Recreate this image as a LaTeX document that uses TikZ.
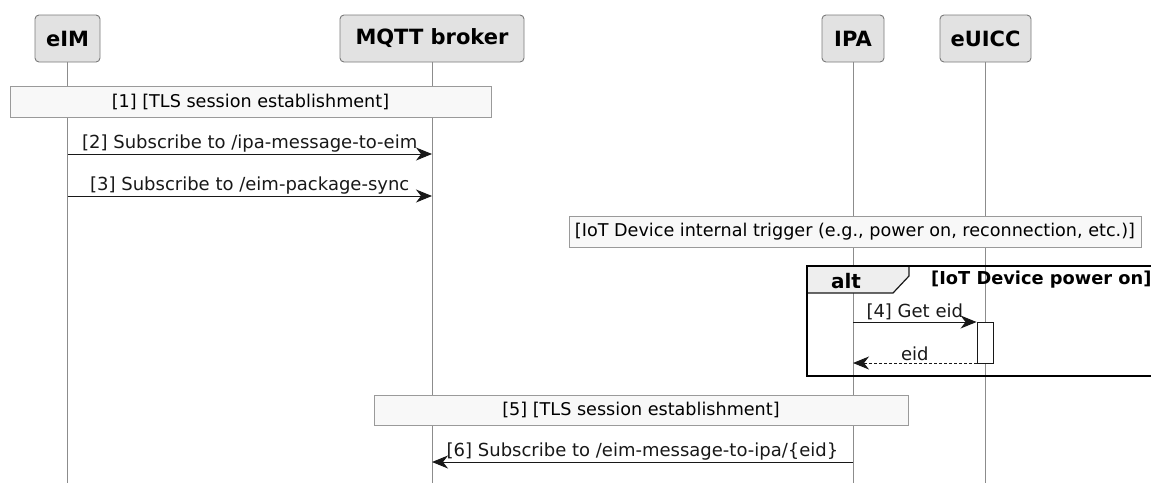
\documentclass[tikz,border=0pt]{standalone}
\usepackage{fontspec}
\setmainfont{DejaVu Sans}
\usetikzlibrary{arrows.meta}
\definecolor{ptfill}{HTML}{E2E2E2}
\definecolor{ptdraw}{HTML}{7A7A7A}
\definecolor{lifeln}{HTML}{8C8C8C}
\definecolor{notefill}{HTML}{F8F8F8}
\definecolor{notedraw}{HTML}{9A9A9A}
\definecolor{ink}{HTML}{181818}
\definecolor{tabfill}{HTML}{EEEEEE}
\begin{document}
\begin{tikzpicture}[x=1pt,y=-1pt,
  participant/.style={draw=ptdraw, fill=ptfill, rounded corners=4pt, line width=0.9pt,
    minimum height=47pt, inner sep=0pt, font=\bfseries\fontsize{21}{24}\selectfont},
  lifeline/.style={draw=lifeln, line width=0.8pt},
  notebox/.style={draw=notedraw, fill=notefill, line width=0.9pt, minimum height=31pt,
    inner sep=0pt, font=\fontsize{17.6}{20}\selectfont},
  msg/.style={draw=ink, line width=1pt, -{Stealth[length=16pt,width=13pt,inset=5pt]}},
  reply/.style={msg, densely dashed},
  msglabel/.style={font=\fontsize{18}{20}\selectfont, text=ink, inner sep=1pt, above=0.5pt}
]
\useasboundingbox (0,0) rectangle (1151,483);

% participants
\node[participant, minimum width=65pt]  (eim)   at (67.5,38.5)  {eIM};
\node[participant, minimum width=184pt] (mqtt)  at (432,38.5)   {MQTT broker};
\node[participant, minimum width=62pt]  (ipa)   at (853,38.5)   {IPA};
\node[participant, minimum width=91pt]  (euicc) at (985.5,38.5) {eUICC};

% lifeline ends
\coordinate (eimEnd)   at (eim.south   |- 0,483);
\coordinate (mqttEnd)  at (mqtt.south  |- 0,483);
\coordinate (ipaEnd)   at (ipa.south   |- 0,483);
\coordinate (euiccEnd) at (euicc.south |- 0,483);
\draw[lifeline] (eim.south) -- (eimEnd);
\draw[lifeline] (mqtt.south) -- (mqttEnd);
\draw[lifeline] (ipa.south) -- (ipaEnd);
\draw[lifeline] (euicc.south) -- (euiccEnd);

% [1] TLS session
\node[notebox, minimum width=481pt] (tls1) at (250.5,101.5) {[1] [TLS session establishment]};

% subscriptions by the eIM
\coordinate (m2a) at (eim.south  |- 0,154);
\coordinate (m2b) at (mqtt.south |- 0,154);
\draw[msg] (m2a) -- node[msglabel] {[2] Subscribe to /ipa-message-to-eim} (m2b);
\coordinate (m3a) at (eim.south  |- 0,196);
\coordinate (m3b) at (mqtt.south |- 0,196);
\draw[msg] (m3a) -- node[msglabel] {[3] Subscribe to /eim-package-sync} (m3b);

% device trigger
\node[notebox, minimum width=572pt] (trig) at (855,231.5)
  {[IoT Device internal trigger (e.g., power on, reconnection, etc.)]};

% alt fragment (runs past the right edge)
\begin{scope}
\clip (0,0) rectangle (1151,483);
\coordinate (altTL) at (807,266);
\coordinate (altBR) at (1160,376);
\fill[tabfill] (807,266) -- (909,266) -- (909,276) -- (893,293) -- (807,293) -- cycle;
\draw[ink, line width=1.2pt] (807,293) -- (893,293) -- (909,276) -- (909,266);
\draw[black, line width=2pt] (altTL) rectangle (altBR);
\end{scope}
\node[font=\bfseries\fontsize{20}{22}\selectfont, anchor=center] (altlbl) at (846,281) {alt};
\node[font=\bfseries\fontsize{17.8}{20}\selectfont, anchor=west, inner sep=0pt] (guard) at (931,280)
  {[IoT Device power on]};

% activation on the eUICC
\node[draw=ink, fill=white, line width=0.9pt, minimum width=16pt, minimum height=41pt,
  inner sep=0pt] (act) at (985,342.5) {};

\coordinate (m4a) at (ipa.south |- 0,322);
\coordinate (m4b) at (act.west |- 0,322);
\draw[msg] (m4a) -- node[msglabel] {[4] Get eid} (m4b);
\coordinate (r4a) at (act.west |- 0,363);
\coordinate (r4b) at (ipa.south |- 0,363);
\draw[reply] (r4a) -- node[msglabel] {eid} (r4b);

% [5] TLS session
\node[notebox, minimum width=534pt, minimum height=30pt] (tls5) at (641,410)
  {[5] [TLS session establishment]};

% subscription by the IPA
\coordinate (m6a) at (ipa.south  |- 0,462);
\coordinate (m6b) at (mqtt.south |- 0,462);
\draw[msg] (m6a) -- node[msglabel] {[6] Subscribe to /eim-message-to-ipa/\{eid\}} (m6b);
\end{tikzpicture}
\end{document}
